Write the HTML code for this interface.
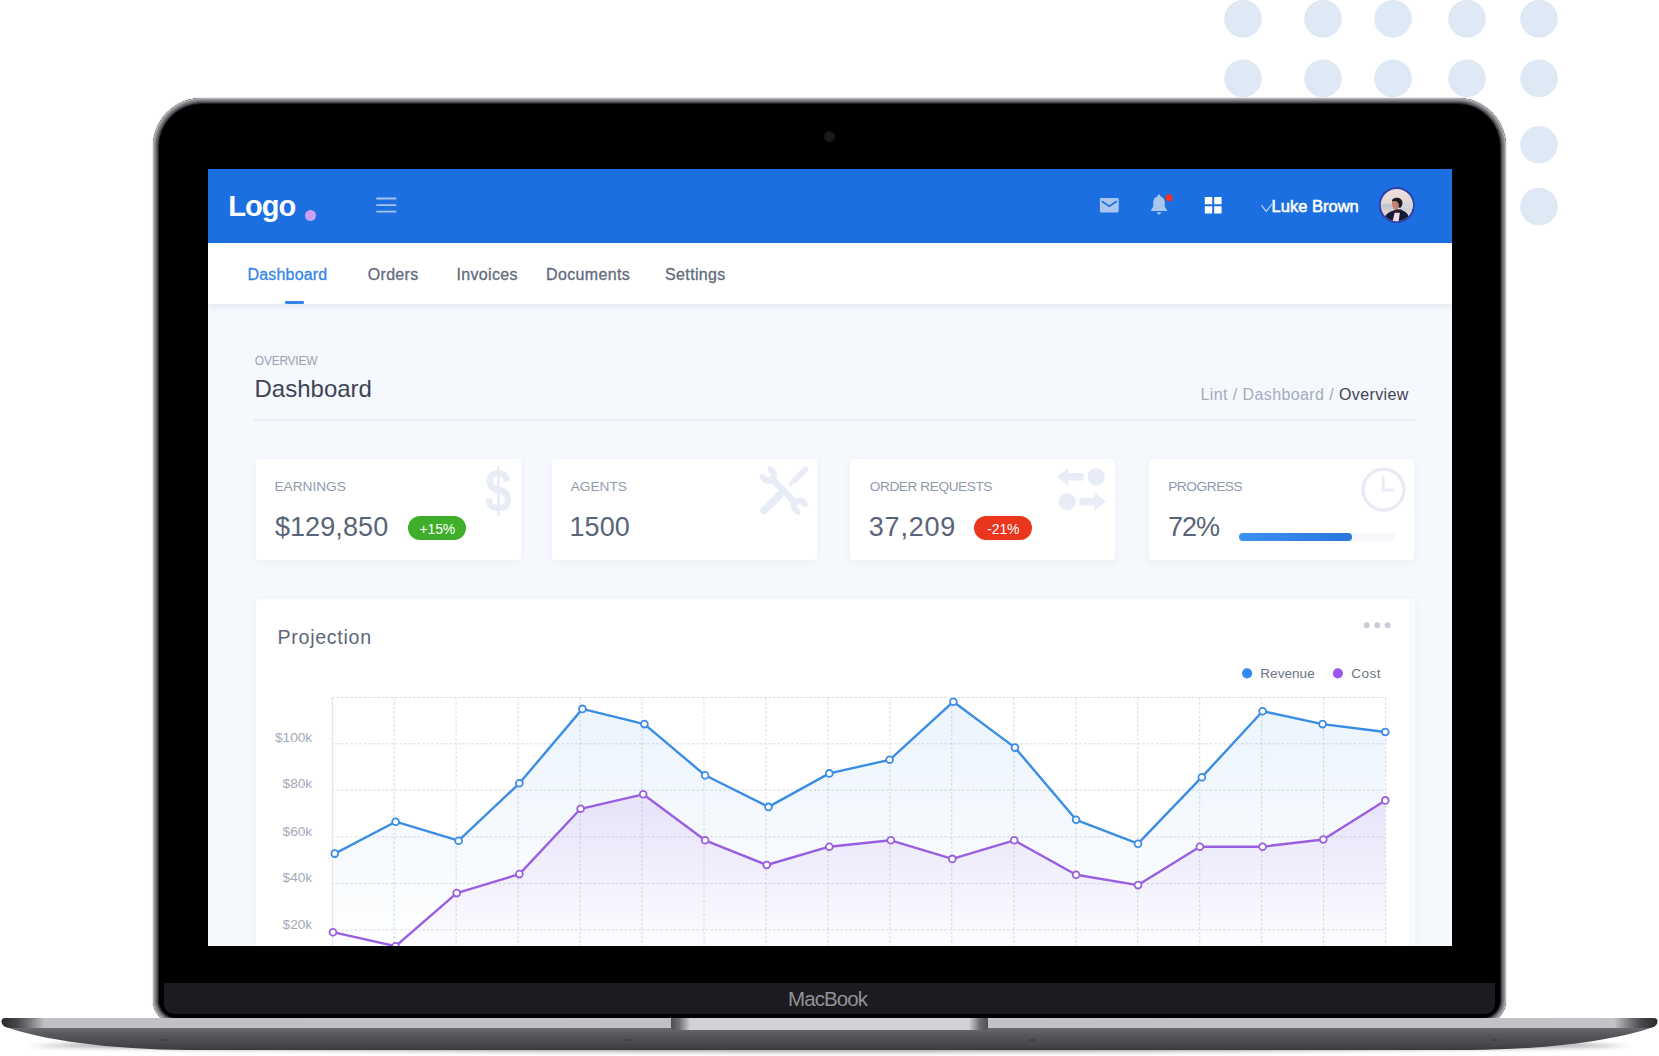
<!DOCTYPE html>
<html lang="en"><head><meta charset="utf-8"><title>Dashboard</title>
<style>
html,body{margin:0;padding:0}
body{width:1659px;height:1056px;position:relative;overflow:hidden;background:#fff;font-family:"Liberation Sans", sans-serif}
.t{position:absolute;white-space:nowrap;line-height:1;display:block}
.dots{position:absolute;left:0;top:0}
.lid{position:absolute;left:153px;top:98px;width:1353px;height:926px;border-radius:49px 49px 24px 24px;background:#000;
box-shadow:inset 0 0 0 1px #b4b4b9,inset 0 0 0 2px #909095,inset 0 0 0 3px #7c7c81,inset 0 0 0 4px #67676c,inset 0 0 0 5px #49494e,inset 0 0 0 6px #202024,0 0 1.500px rgba(140,140,148,.9)}
.chin{position:absolute;left:164.300px;top:982.700px;width:1330.600px;height:31px;background:#1c1b1f;border-radius:0 0 10px 10px}
.cam{position:absolute;left:824.300px;top:131.300px;width:10.500px;height:10.500px;border-radius:50%;background:radial-gradient(circle,#1b1b1e 0,#19191c 55%,#0c0c0e 100%)}
.mb{position:absolute;left:788px;top:989.4px;font-size:20.500px;line-height:1;color:#929298;letter-spacing:-0.9px;white-space:nowrap}
.screen{position:absolute;left:208px;top:169px;width:1244.400px;height:777.300px;overflow:hidden;background:#f5f8fc}
.hdr{position:absolute;left:0;top:0;width:1245px;height:74px;background:#1b6fe0}
.nav{position:absolute;left:0;top:74px;width:1245px;height:61px;background:#fff;box-shadow:0 2px 7px rgba(40,60,100,.10)}
.card{position:absolute;background:#fff;border-radius:3px;box-shadow:0 2px 8px rgba(60,80,120,.05)}
.hr{position:absolute;height:1.500px;background:#e8ecf3}
.chart{position:absolute;left:0;top:0}
.badge{position:absolute;width:58.200px;height:24px;border-radius:12px;color:#fff;font-size:14px;line-height:27px;text-align:center;letter-spacing:-0.2px}
.base{position:absolute;left:0;top:1010px}
</style></head><body>
<svg class="dots" width="1659" height="240" viewBox="0 0 1659 240" fill="#dfe8f5"><circle cx="1243" cy="18.8" r="18.8"/><circle cx="1323" cy="18.8" r="18.8"/><circle cx="1393" cy="18.8" r="18.8"/><circle cx="1467" cy="18.8" r="18.8"/><circle cx="1539" cy="18.8" r="18.8"/><circle cx="1243" cy="78.4" r="18.8"/><circle cx="1323" cy="78.4" r="18.8"/><circle cx="1393" cy="78.4" r="18.8"/><circle cx="1467" cy="78.4" r="18.8"/><circle cx="1539" cy="78.4" r="18.8"/><circle cx="1243" cy="144.7" r="18.8"/><circle cx="1323" cy="144.7" r="18.8"/><circle cx="1393" cy="144.7" r="18.8"/><circle cx="1467" cy="144.7" r="18.8"/><circle cx="1539" cy="144.7" r="18.8"/><circle cx="1243" cy="206.6" r="18.8"/><circle cx="1323" cy="206.6" r="18.8"/><circle cx="1393" cy="206.6" r="18.8"/><circle cx="1467" cy="206.6" r="18.8"/><circle cx="1539" cy="206.6" r="18.8"/></svg>
<div class="lid"></div>
<div class="cam"></div>
<div class="chin"></div>
<div class="mb">MacBook</div>
<div class="screen">
<div class="hdr"></div><div class="nav"></div>
<div class="card" style="left:47.599999999999994px;top:290px;width:265.3px;height:101px"></div>
<div class="card" style="left:343.5px;top:290px;width:265.3px;height:101px"></div>
<div class="card" style="left:642px;top:290px;width:265.3px;height:101px"></div>
<div class="card" style="left:941px;top:290px;width:265.3px;height:101px"></div>
<div class="card" style="left:47.6px;top:429.8px;width:1159.6px;height:400px"></div>
<div style="position:absolute;left:47.6px;top:425.1px;width:1153px;height:1.300px;background:#fbfcfe"></div>
<div style="position:absolute;left:1200.5px;top:429.8px;width:6.700px;height:400px;background:#fafbfd"></div>
<div class="hr" style="left:46px;top:250px;width:1162px"></div>
<svg class="chart" width="1244" height="777" viewBox="208 169 1244 777"><defs><linearGradient id="gb" x1="0" y1="0" x2="0" y2="1"><stop offset="0" stop-color="#3b8de3" stop-opacity="0.10"/><stop offset="1" stop-color="#3b8de3" stop-opacity="0.0"/></linearGradient><linearGradient id="gp" x1="0" y1="0" x2="0" y2="1"><stop offset="0" stop-color="#9a5fe0" stop-opacity="0.14"/><stop offset="1" stop-color="#9a5fe0" stop-opacity="0.0"/></linearGradient></defs><path d="M332.2 697.5V950M394.2 697.5V950M456.1 697.5V950M518.1 697.5V950M580.1 697.5V950M642.0 697.5V950M704.0 697.5V950M766.0 697.5V950M827.9 697.5V950M889.9 697.5V950M951.8 697.5V950M1013.8 697.5V950M1075.8 697.5V950M1137.7 697.5V950M1199.7 697.5V950M1261.7 697.5V950M1323.6 697.5V950M1385.6 697.5V950M332.2 697.5H1385.6M332.2 743.8H1385.6M332.2 790.2H1385.6M332.2 836.9H1385.6M332.2 883.6H1385.6M332.2 929.9H1385.6" stroke="#d6dae2" stroke-width="1" stroke-dasharray="2.5 2" fill="none"/><path d="M332.6 697.5V950" stroke="#e2e5eb" stroke-width="1" fill="none"/><polygon points="334.8,853.6 395.6,821.7 458.6,840.7 519.4,783.3 582.4,708.9 644.4,724.1 705.1,775.3 768.5,806.9 829.3,773.4 889.6,759.8 953.4,701.7 1015,747.6 1076.1,819.8 1138,843.7 1201.8,777.2 1262.6,711.2 1322.6,724.1 1385.3,732 1385.3,960 334.8,960" fill="url(#gb)"/><polygon points="332.9,932.2 395.6,946.2 456.7,893.1 519.4,874.1 580.6,808.8 643.2,794.3 705.1,840.3 766.7,865 829.3,846.7 890.8,840.3 952.3,858.9 1014.2,840.3 1076.1,874.8 1138,885.1 1199.9,846.7 1262.6,846.7 1323.3,839.5 1385.3,800.4 1385.3,960 332.9,960" fill="url(#gp)"/><polyline points="334.8,853.6 395.6,821.7 458.6,840.7 519.4,783.3 582.4,708.9 644.4,724.1 705.1,775.3 768.5,806.9 829.3,773.4 889.6,759.8 953.4,701.7 1015,747.6 1076.1,819.8 1138,843.7 1201.8,777.2 1262.6,711.2 1322.6,724.1 1385.3,732" fill="none" stroke="#3b8de3" stroke-width="2.4" stroke-linejoin="round"/><polyline points="332.9,932.2 395.6,946.2 456.7,893.1 519.4,874.1 580.6,808.8 643.2,794.3 705.1,840.3 766.7,865 829.3,846.7 890.8,840.3 952.3,858.9 1014.2,840.3 1076.1,874.8 1138,885.1 1199.9,846.7 1262.6,846.7 1323.3,839.5 1385.3,800.4" fill="none" stroke="#9a5fe0" stroke-width="2.4" stroke-linejoin="round"/><circle cx="334.8" cy="853.6" r="3.4" fill="#fff" stroke="#3b8de3" stroke-width="1.8"/><circle cx="395.6" cy="821.7" r="3.4" fill="#fff" stroke="#3b8de3" stroke-width="1.8"/><circle cx="458.6" cy="840.7" r="3.4" fill="#fff" stroke="#3b8de3" stroke-width="1.8"/><circle cx="519.4" cy="783.3" r="3.4" fill="#fff" stroke="#3b8de3" stroke-width="1.8"/><circle cx="582.4" cy="708.9" r="3.4" fill="#fff" stroke="#3b8de3" stroke-width="1.8"/><circle cx="644.4" cy="724.1" r="3.4" fill="#fff" stroke="#3b8de3" stroke-width="1.8"/><circle cx="705.1" cy="775.3" r="3.4" fill="#fff" stroke="#3b8de3" stroke-width="1.8"/><circle cx="768.5" cy="806.9" r="3.4" fill="#fff" stroke="#3b8de3" stroke-width="1.8"/><circle cx="829.3" cy="773.4" r="3.4" fill="#fff" stroke="#3b8de3" stroke-width="1.8"/><circle cx="889.6" cy="759.8" r="3.4" fill="#fff" stroke="#3b8de3" stroke-width="1.8"/><circle cx="953.4" cy="701.7" r="3.4" fill="#fff" stroke="#3b8de3" stroke-width="1.8"/><circle cx="1015" cy="747.6" r="3.4" fill="#fff" stroke="#3b8de3" stroke-width="1.8"/><circle cx="1076.1" cy="819.8" r="3.4" fill="#fff" stroke="#3b8de3" stroke-width="1.8"/><circle cx="1138" cy="843.7" r="3.4" fill="#fff" stroke="#3b8de3" stroke-width="1.8"/><circle cx="1201.8" cy="777.2" r="3.4" fill="#fff" stroke="#3b8de3" stroke-width="1.8"/><circle cx="1262.6" cy="711.2" r="3.4" fill="#fff" stroke="#3b8de3" stroke-width="1.8"/><circle cx="1322.6" cy="724.1" r="3.4" fill="#fff" stroke="#3b8de3" stroke-width="1.8"/><circle cx="1385.3" cy="732" r="3.4" fill="#fff" stroke="#3b8de3" stroke-width="1.8"/><circle cx="332.9" cy="932.2" r="3.4" fill="#fff" stroke="#9a5fe0" stroke-width="1.8"/><circle cx="395.6" cy="946.2" r="3.4" fill="#fff" stroke="#9a5fe0" stroke-width="1.8"/><circle cx="456.7" cy="893.1" r="3.4" fill="#fff" stroke="#9a5fe0" stroke-width="1.8"/><circle cx="519.4" cy="874.1" r="3.4" fill="#fff" stroke="#9a5fe0" stroke-width="1.8"/><circle cx="580.6" cy="808.8" r="3.4" fill="#fff" stroke="#9a5fe0" stroke-width="1.8"/><circle cx="643.2" cy="794.3" r="3.4" fill="#fff" stroke="#9a5fe0" stroke-width="1.8"/><circle cx="705.1" cy="840.3" r="3.4" fill="#fff" stroke="#9a5fe0" stroke-width="1.8"/><circle cx="766.7" cy="865" r="3.4" fill="#fff" stroke="#9a5fe0" stroke-width="1.8"/><circle cx="829.3" cy="846.7" r="3.4" fill="#fff" stroke="#9a5fe0" stroke-width="1.8"/><circle cx="890.8" cy="840.3" r="3.4" fill="#fff" stroke="#9a5fe0" stroke-width="1.8"/><circle cx="952.3" cy="858.9" r="3.4" fill="#fff" stroke="#9a5fe0" stroke-width="1.8"/><circle cx="1014.2" cy="840.3" r="3.4" fill="#fff" stroke="#9a5fe0" stroke-width="1.8"/><circle cx="1076.1" cy="874.8" r="3.4" fill="#fff" stroke="#9a5fe0" stroke-width="1.8"/><circle cx="1138" cy="885.1" r="3.4" fill="#fff" stroke="#9a5fe0" stroke-width="1.8"/><circle cx="1199.9" cy="846.7" r="3.4" fill="#fff" stroke="#9a5fe0" stroke-width="1.8"/><circle cx="1262.6" cy="846.7" r="3.4" fill="#fff" stroke="#9a5fe0" stroke-width="1.8"/><circle cx="1323.3" cy="839.5" r="3.4" fill="#fff" stroke="#9a5fe0" stroke-width="1.8"/><circle cx="1385.3" cy="800.4" r="3.4" fill="#fff" stroke="#9a5fe0" stroke-width="1.8"/><circle cx="1247.1" cy="673.3" r="5.1" fill="#308af0"/><circle cx="1337.9" cy="673.3" r="5.1" fill="#9b57f0"/><circle cx="1366.7" cy="625.3" r="3" fill="#c8cdd6"/><circle cx="1377.2" cy="625.3" r="3" fill="#c8cdd6"/><circle cx="1387.6" cy="625.3" r="3" fill="#c8cdd6"/></svg>
<span class="t" style="left:20.3px;top:22.7px;font-size:29px;color:#fff;font-weight:700;letter-spacing:-1.0px;">Logo</span>
<div style="position:absolute;left:97.3px;top:41.3px;width:10.8px;height:10.8px;border-radius:50%;background:#c9a0f2"></div>
<svg style="position:absolute;left:168px;top:27px" width="22" height="18" viewBox="376 196 22 18"><path d="M376.3 198.5h20M376.3 205.1h20M376.3 211.6h20" stroke="#a6c4f1" stroke-width="1.9"/></svg>
<svg style="position:absolute;left:882px;top:16px" width="340" height="44" viewBox="1090 185 340 44">
<path d="M1101.4 198h15.8c.8 0 1.5.7 1.500 1.500v11.400c0 .8-.7 1.500-1.500 1.500h-15.800c-.8 0-1.500-.7-1.500-1.500v-11.400c0-.8.7-1.500 1.500-1.500z" fill="#a9c5f0"/>
<path d="M1101.8 201.300l7.500 4.900 7.500-4.900" fill="none" stroke="#1b6fe0" stroke-width="1.700"/>
<path d="M1159 194.600c.9 0 1.500.6 1.500 1.400v.5c2.600.7 4.300 3 4.300 5.900v4.200l2.100 3.300c.3.500 0 1.100-.6 1.100h-14.600c-.6 0-.9-.6-.6-1.100l2.100-3.300v-4.200c0-2.900 1.700-5.200 4.300-5.900v-.5c0-.8.600-1.400 1.500-1.400z" fill="#a9c5f0"/>
<path d="M1156.900 212.300h4.200c0 1.200-.9 2.100-2.100 2.100s-2.100-.9-2.100-2.100z" fill="#a9c5f0"/>
<circle cx="1169" cy="197.700" r="3.500" fill="#f5331f"/>
<path d="M1204.800 197.100h7.400v7.200h-7.400zM1214.200 197.100h7.400v7.200h-7.400zM1204.800 206.200h7.400v7.200h-7.400zM1214.200 206.200h7.400v7.200h-7.400z" fill="#fff"/>
<path d="M1261.500 205.300l4.700 6 5.800-7.300" fill="none" stroke="#c3d8f7" stroke-width="1.100"/>
<defs><clipPath id="av"><circle cx="1396.800" cy="205.100" r="16.100"/></clipPath>
<linearGradient id="avbg" x1="0" y1="0" x2="0" y2="1"><stop offset="0" stop-color="#efe2e3"/><stop offset="0.45" stop-color="#e4d6d3"/><stop offset="0.5" stop-color="#bfc5cf"/><stop offset="0.62" stop-color="#c9ccd3"/><stop offset="0.64" stop-color="#e3cfcd"/><stop offset="1" stop-color="#efe0e4"/></linearGradient></defs>
<circle cx="1396.800" cy="205.100" r="18" fill="#2f3fa6"/>
<g clip-path="url(#av)">
<rect x="1378" y="186" width="38" height="38" fill="url(#avbg)"/>
<path d="M1402 203h12v5.500h-13z" fill="#d3d6dd"/>
<path d="M1396.400 208.300l3.700-.6.400 2.800-4 .3z" fill="#e6e6ec"/>
<path d="M1392 201.200h4.400l2.200 2.300.3 4.100-1.400 1.600h-3.300l-1.600-2.200-.6-3z" fill="#c48271"/>
<path d="M1392 200.400c.4-2.200 3-2.900 5.500-2.700 3 .3 5.100 2.300 5 5.300-.1 2.500-1 4.200-2.500 4.800l-1.200-.3-.3-4-2.100-2.200h-4.400z" fill="#1c1c23"/>
<path d="M1383 224l1.600-7c1.400-3.200 4.400-5 8.300-6.300l3.100-1.200 4.500-.3 1.100.7c2.900 1.100 5.400 2.700 6.500 5.200l1.900 8.900z" fill="#141b3a"/>
<path d="M1394.800 212.300h5.100l-1.600 11.700h-6.300z" fill="#f1dbe3"/>
<path d="M1393.400 211l6.900-.2v1.900l-6.900.1z" fill="#45182a"/>
</g>
</svg>
<span class="t" style="left:1063.6px;top:29.3px;font-size:16.5px;color:#fff;font-weight:400;-webkit-text-stroke:0.55px #fff;">Luke Brown</span>
<span class="t" style="left:39.4px;top:97.9px;font-size:16px;color:#3585e8;font-weight:400;letter-spacing:0.2px;-webkit-text-stroke:0.3px #3585e8;">Dashboard</span>
<span class="t" style="left:159.8px;top:97.9px;font-size:16px;color:#626b7c;font-weight:400;letter-spacing:0.3px;-webkit-text-stroke:0.3px #626b7c;">Orders</span>
<span class="t" style="left:248.6px;top:97.9px;font-size:16px;color:#626b7c;font-weight:400;letter-spacing:0.3px;-webkit-text-stroke:0.3px #626b7c;">Invoices</span>
<span class="t" style="left:338.1px;top:97.9px;font-size:16px;color:#626b7c;font-weight:400;letter-spacing:0.35px;-webkit-text-stroke:0.3px #626b7c;">Documents</span>
<span class="t" style="left:457.1px;top:97.9px;font-size:16px;color:#626b7c;font-weight:400;letter-spacing:0.35px;-webkit-text-stroke:0.3px #626b7c;">Settings</span>
<div style="position:absolute;left:76.6px;top:132px;width:19.5px;height:3px;background:#3585e8;border-radius:1px"></div>
<span class="t" style="left:46.8px;top:186.1px;font-size:12px;color:#98a3b6;font-weight:400;letter-spacing:-0.25px;">OVERVIEW</span>
<span class="t" style="left:46.5px;top:207.7px;font-size:24px;color:#3d4456;font-weight:400;">Dashboard</span>
<span class="t" style="right:43.6px;top:217.8px;font-size:16px;color:#3d4456;font-weight:400;letter-spacing:0.4px;"><span style="color:#a3adbf">Lint / Dashboard / </span>Overview</span>
<span class="t" style="left:66.4px;top:310.9px;font-size:13.7px;color:#8f9aad;font-weight:400;">EARNINGS</span>
<span class="t" style="left:66.9px;top:345.1px;font-size:27px;color:#5a6478;font-weight:400;letter-spacing:0.1px;">$129,850</span>
<div class="badge" style="left:200.2px;top:347.4px;background:#3fae2a">+15%</div>
<span class="t" style="left:362.7px;top:310.9px;font-size:13.7px;color:#8f9aad;font-weight:400;">AGENTS</span>
<span class="t" style="left:361.6px;top:345.1px;font-size:27px;color:#5a6478;font-weight:400;">1500</span>
<span class="t" style="left:661.8px;top:310.9px;font-size:13.7px;color:#8f9aad;font-weight:400;letter-spacing:-0.45px;">ORDER REQUESTS</span>
<span class="t" style="left:660.8px;top:345.1px;font-size:27px;color:#5a6478;font-weight:400;letter-spacing:0.8px;">37,209</span>
<div class="badge" style="left:766.2px;top:347.4px;background:#e9361d">-21%</div>
<span class="t" style="left:960.2px;top:310.9px;font-size:13.7px;color:#8f9aad;font-weight:400;letter-spacing:-0.45px;">PROGRESS</span>
<span class="t" style="left:960.0px;top:345.1px;font-size:27px;color:#5a6478;font-weight:400;letter-spacing:-1px;">72%</span>
<div style="position:absolute;left:1030.6px;top:363.7px;width:156.4px;height:8px;border-radius:4px;background:#f5f7fb"><div style="width:113px;height:8px;border-radius:4px;background:linear-gradient(90deg,#3b90f0,#2a76dc)"></div></div>
<span class="t" style="left:276.6px;top:289.8px;font-size:62px;color:#e7ecf6;font-weight:700;transform:scaleX(0.77);transform-origin:0 0;">$</span>
<svg style="position:absolute;left:547px;top:293px" width="60" height="58" viewBox="755 462 60 58">
<g fill="none" stroke="#e7ecf6" stroke-linecap="round">
<path d="M764 510.500l15.500-15.500" stroke-width="7.500"/>
<path d="M790 484.500l5-5" stroke-width="3.400"/>
<path d="M794.500 480.500l11-11" stroke-width="6"/>
<path d="M772 479l24 24" stroke-width="6.500" stroke-linecap="butt"/>
<path d="M767.91 469.41A5.6 5.6 0 1 1 762.61 474.71" stroke-width="6.200" stroke-linecap="butt"/>
<path d="M799.89 511.79A5.6 5.6 0 1 1 805.19 506.49" stroke-width="6.200" stroke-linecap="butt"/>
</g>
</svg>
<svg style="position:absolute;left:844px;top:295px" width="60" height="52" viewBox="1052 464 60 52" fill="#e7ecf6">
<circle cx="1096.200" cy="476.800" r="8.600"/><circle cx="1067" cy="501.600" r="8.600"/>
<path d="M1057 476.800l11.500-9v5.200h15v7.600h-15v5.200z"/>
<path d="M1106 501.600l-11.500-9v5.200h-15v7.600h15v5.200z"/>
</svg>
<svg style="position:absolute;left:1150px;top:295px" width="52" height="52" viewBox="1358 464 52 52" fill="none" stroke="#e8ebf5">
<circle cx="1383.500" cy="489.600" r="20.500" stroke-width="3.200"/>
<path d="M1383.300 476.500v13.600h11" stroke-width="2.600"/>
</svg>
<span class="t" style="left:69.6px;top:458.9px;font-size:19.6px;color:#5d6679;font-weight:400;letter-spacing:0.7px;">Projection</span>
<span class="t" style="left:1052.3px;top:498.1px;font-size:13.6px;color:#6b7385;font-weight:400;">Revenue</span>
<span class="t" style="left:1143.2px;top:498.1px;font-size:13.6px;color:#6b7385;font-weight:400;letter-spacing:0.5px;">Cost</span>
<span class="t" style="right:1140.2px;top:561.8px;font-size:13.7px;color:#a2aab9;font-weight:400;">$100k</span>
<span class="t" style="right:1140.2px;top:608.4px;font-size:13.7px;color:#a2aab9;font-weight:400;">$80k</span>
<span class="t" style="right:1140.2px;top:655.6px;font-size:13.7px;color:#a2aab9;font-weight:400;">$60k</span>
<span class="t" style="right:1140.2px;top:702.4px;font-size:13.7px;color:#a2aab9;font-weight:400;">$40k</span>
<span class="t" style="right:1140.2px;top:749.4px;font-size:13.7px;color:#a2aab9;font-weight:400;">$20k</span>
</div>
<svg class="base" width="1659" height="46" viewBox="0 1010 1659 46">
<defs>
<linearGradient id="bt" x1="0" y1="0" x2="1" y2="0"><stop offset="0" stop-color="#2a2a2e"/><stop offset="0.009" stop-color="#45454a"/><stop offset="0.016" stop-color="#707076"/><stop offset="0.026" stop-color="#c0c0c6"/><stop offset="0.974" stop-color="#c2c2c8"/><stop offset="0.984" stop-color="#707076"/><stop offset="0.991" stop-color="#45454a"/><stop offset="1" stop-color="#2a2a2e"/></linearGradient>
<linearGradient id="bb" x1="0" y1="0" x2="0" y2="1"><stop offset="0" stop-color="#707076"/><stop offset="0.35" stop-color="#57575c"/><stop offset="0.8" stop-color="#47474b"/><stop offset="1" stop-color="#39393d"/></linearGradient>
<linearGradient id="nt" x1="0" y1="0" x2="1" y2="0"><stop offset="0" stop-color="#4e4e53"/><stop offset="0.025" stop-color="#6b6b70"/><stop offset="0.06" stop-color="#d1d1d6"/><stop offset="0.94" stop-color="#d1d1d6"/><stop offset="0.975" stop-color="#6b6b70"/><stop offset="1" stop-color="#4e4e53"/></linearGradient>
<filter id="bl" x="-5%" y="-100%" width="110%" height="300%"><feGaussianBlur stdDeviation="2.2"/></filter>
</defs>
<path d="M28 1046C300 1054 1359 1054 1631 1046L1500 1040H160z" fill="#55555a" opacity=".55" filter="url(#bl)"/>
<path d="M3 1026C40 1040 110 1049.500 190 1050H1469C1549 1049.500 1619 1040 1656 1026z" fill="url(#bb)"/>
<path d="M5 1018H1654C1656.500 1018 1657.500 1019.500 1657.500 1021.500C1657.500 1025 1654 1028 1648 1028H11C5 1028 1.500 1025 1.500 1021.500C1.500 1019.500 2.500 1018 5 1018z" fill="url(#bt)"/>
<path d="M671 1018H988V1027C988 1029 987 1030 985 1030H674C672 1030 671 1029 671 1027z" fill="url(#nt)"/>
<path d="M160 1040h7M624 1040h7M1029 1040h7M1491 1040h7" stroke="#37373b" stroke-width="1"/>
</svg>
</body></html>
